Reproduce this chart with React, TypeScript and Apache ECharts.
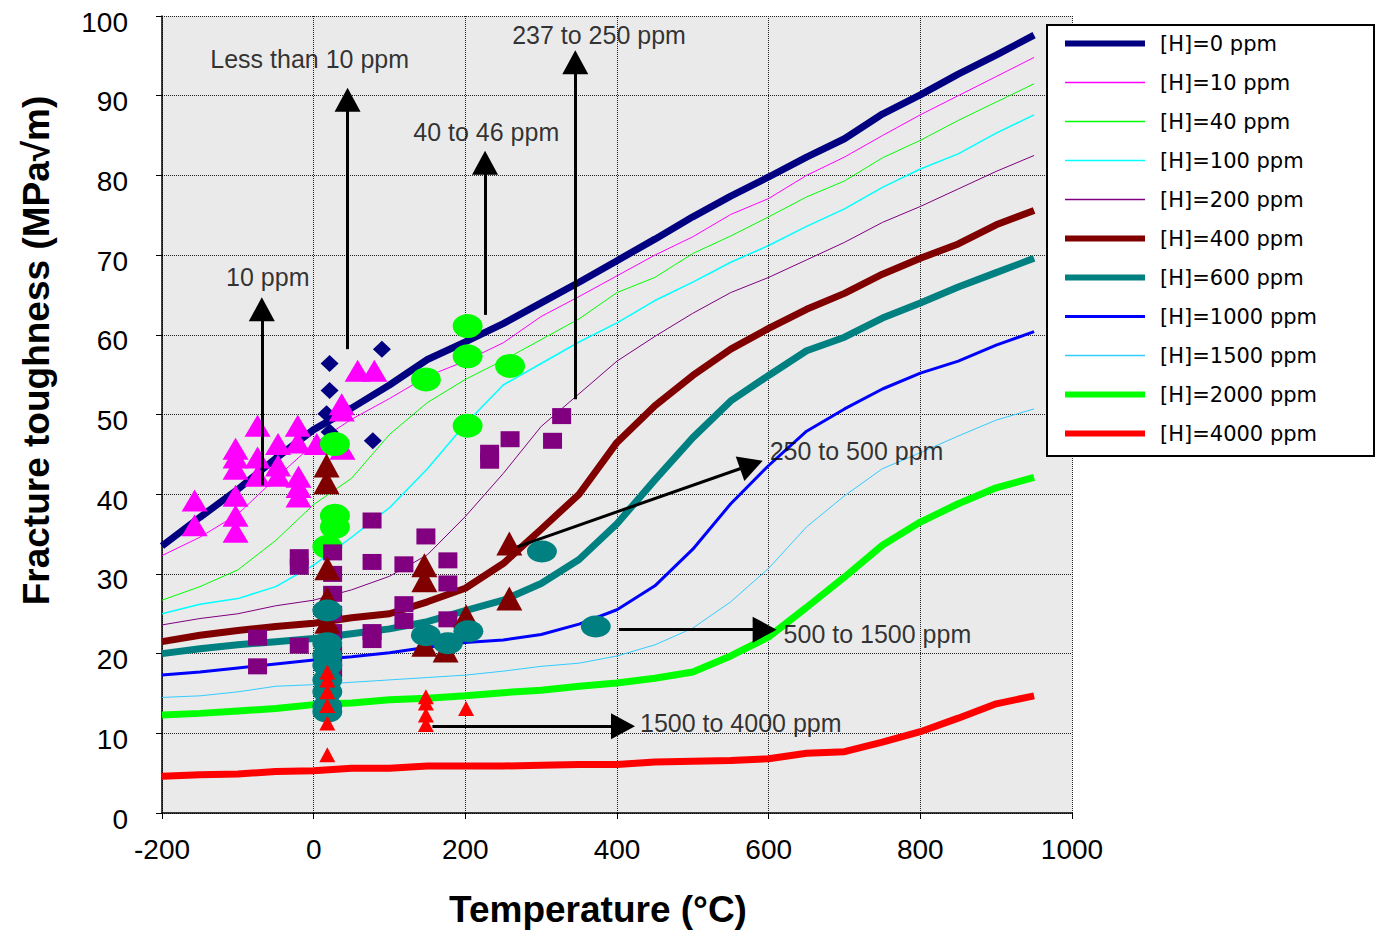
import React, { useEffect, useRef } from "react";
import * as echarts from "echarts";

// Temperature grid of the model curves (°C)
const temps = [-200, -150, -100, -50, 0, 50, 100, 150, 200, 250, 300, 350, 400, 450, 500, 550, 600, 650, 700, 750, 800, 850, 900, 950];

// Model curves: fracture toughness (MPa√m) for each hydrogen content
const h0 = [33.5, 37.1, 40.6, 44.5, 48.1, 50.8, 53.7, 56.9, 59.1, 61.4, 64.0, 66.6, 69.3, 72.0, 74.8, 77.4, 79.8, 82.3, 84.6, 87.7, 90.1, 92.7, 95.1, 97.6];
const h10 = [32.3, 34.6, 37.5, 42.0, 46.3, 49.4, 52.0, 54.8, 56.7, 59.0, 62.3, 64.8, 67.4, 70.0, 72.3, 75.1, 77.1, 80.0, 82.3, 85.0, 87.6, 90.0, 92.4, 94.8];
const h40 = [26.7, 28.4, 30.5, 34.2, 38.7, 42.0, 47.5, 51.5, 54.4, 56.8, 59.4, 62.0, 65.3, 67.2, 70.2, 72.4, 74.8, 77.3, 79.3, 82.2, 84.4, 86.9, 89.2, 91.5];
const h100 = [25.0, 26.2, 26.9, 28.4, 31.1, 34.6, 38.3, 43.2, 48.8, 53.7, 56.4, 59.1, 61.5, 64.3, 66.6, 69.1, 71.2, 73.6, 75.8, 78.5, 80.8, 82.7, 85.3, 87.6];
const h200 = [23.6, 24.4, 25.0, 26.0, 26.7, 28.0, 29.7, 32.4, 37.2, 42.6, 48.5, 52.6, 56.7, 59.8, 62.7, 65.3, 67.2, 69.4, 71.6, 74.1, 76.1, 78.3, 80.5, 82.5];
const h400 = [21.5, 22.3, 22.9, 23.4, 23.8, 24.5, 25.0, 26.5, 28.2, 31.3, 35.6, 40.0, 46.5, 51.1, 54.9, 58.2, 60.8, 63.2, 65.2, 67.6, 69.6, 71.4, 73.8, 75.6];
const h600 = [20.0, 20.6, 21.1, 21.5, 21.9, 22.5, 23.1, 24.0, 25.4, 26.7, 28.8, 31.8, 36.3, 41.8, 47.1, 51.7, 54.9, 58.0, 59.7, 62.1, 64.0, 66.0, 67.8, 69.6];
const h1000 = [17.3, 17.7, 18.2, 18.7, 19.2, 19.6, 20.1, 20.8, 21.4, 21.7, 22.4, 23.7, 25.5, 28.5, 33.1, 38.8, 43.6, 47.9, 50.7, 53.2, 55.2, 56.7, 58.7, 60.4];
const h1500 = [14.5, 14.7, 15.2, 15.9, 16.1, 16.4, 16.7, 17.0, 17.3, 17.8, 18.4, 18.8, 19.7, 21.1, 23.2, 26.5, 30.7, 35.9, 39.8, 43.2, 45.2, 47.3, 49.3, 50.7];
const h2000 = [12.3, 12.5, 12.8, 13.1, 13.6, 13.8, 14.2, 14.4, 14.7, 15.1, 15.4, 15.9, 16.3, 16.9, 17.7, 19.7, 22.1, 25.8, 29.6, 33.6, 36.5, 38.8, 40.8, 42.1];
const h4000 = [4.6, 4.8, 4.9, 5.2, 5.3, 5.6, 5.6, 5.9, 5.9, 5.9, 6.0, 6.1, 6.1, 6.4, 6.5, 6.6, 6.8, 7.5, 7.7, 8.9, 10.2, 11.9, 13.7, 14.7];

const curveNames = ["[H]=0 ppm", "[H]=10 ppm", "[H]=40 ppm", "[H]=100 ppm", "[H]=200 ppm", "[H]=400 ppm", "[H]=600 ppm", "[H]=1000 ppm", "[H]=1500 ppm", "[H]=2000 ppm", "[H]=4000 ppm"];
const curveValues = [h0, h10, h40, h100, h200, h400, h600, h1000, h1500, h2000, h4000];
const curveColors = ["#000080", "#ff00ff", "#00ff00", "#00ffff", "#800080", "#800000", "#008080", "#0000ff", "#33ccff", "#00ff00", "#ff0000"];
const curveWidths = [7, 1, 1, 1.5, 1, 7, 7, 3, 1, 7, 7];
const legendWidths = [6, 1.5, 1.5, 1.5, 1.5, 6, 6, 3, 1.5, 6, 6];

// Experimental points [temperature, toughness]
const ptsLess10 = [[90, 58.2], [21, 56.4], [21, 53], [17, 50.1], [21, 47.8], [78, 46.7]];
const pts10 = [
  [-157, 39.2], [-157, 36.1], [-103, 39.8], [-103, 37.3], [-103, 35.3], [-103, 45.7], [-103, 44.6], [-103, 43.2],
  [-74, 48.6], [-74, 44.6], [-74, 42.3], [-47, 46.3], [-47, 43.6], [-47, 42.3], [-21, 48.6], [-21, 46.5],
  [-20, 42.2], [-20, 40.9], [-20, 39.7], [4, 46.3], [37, 51.3], [37, 50.5], [38, 45.7], [58, 55.5], [80, 55.5],
];
const pts40 = [[203, 61.1], [203, 57.3], [148, 54.4], [259, 56.1], [203, 48.6], [28, 46.3], [28, 37.3], [28, 35.9], [18, 33.4]];
const pts240 = [
  [327, 49.8], [315, 46.7], [259, 46.9], [232, 45.2], [232, 44.2], [-19, 32.1], [-19, 30.9], [25, 32.7], [77, 36.7],
  [77, 31.5], [119, 31.2], [148, 34.7], [177, 31.7], [177, 28.8], [119, 26.2], [119, 24.1], [177, 24.3], [77, 22.7],
  [77, 21.7], [-19, 21], [-74, 22], [-74, 18.4], [25, 30], [25, 27.5], [25, 25], [25, 22.7], [25, 20], [25, 18],
];
const pts250to500 = [[17, 43.6], [17, 41.5], [18, 30.7], [18, 26.9], [18, 24], [146, 31.1], [146, 29.2], [201, 24.7], [146, 21.1], [174, 20.4], [258, 33.8], [258, 26.9]];
const pts500to1500 = [[18, 25.4], [18, 21.3], [18, 19.8], [18, 18.5], [18, 16.7], [18, 15.2], [18, 13.4], [18, 12.7], [148, 22.3], [177, 21.3], [204, 22.8], [301, 32.8], [372, 23.4]];
const pts1500to4000 = [[18, 17.7], [18, 16.7], [18, 15.2], [18, 13.5], [18, 11.3], [18, 7.3], [148, 14.6], [148, 13.8], [148, 12.3], [148, 11.1], [201, 13.1]];

// Annotation labels [x, y, text, align]
const noteLabels: [number, number, string, string][] = [
  [-60.5, 67.3, "10 ppm", "center"],
  [-5.3, 94.6, "Less than 10 ppm", "center"],
  [227.6, 85.5, "40 to 46 ppm", "center"],
  [376.3, 97.6, "237 to 250 ppm", "center"],
  [601.3, 45.4, "250 to 500 ppm", "left"],
  [619.7, 22.5, "500 to 1500 ppm", "left"],
  [430.3, 11.3, "1500 to 4000 ppm", "left"],
];
// Arrows [x1, y1, x2, y2]
const noteArrows = [
  [-68.4, 41.1, -68.4, 63.2],
  [44.7, 58.2, 44.7, 89.5],
  [226, 62.5, 226, 81.6],
  [345, 51.9, 345, 94.2],
  [268.4, 33.4, 577.2, 43.7],
  [402.6, 23.0, 594.7, 23.0],
  [156.6, 10.9, 407.9, 10.9],
];

const FONT = "'Liberation Sans', Arial, Helvetica, sans-serif";

export default function App() {
  const ref = useRef<HTMLDivElement>(null);
  useEffect(() => {
    const chart = echarts.init(ref.current!, null, { renderer: "svg" });
    const lineSeries = curveNames.map((name, i) => ({
      name,
      type: "line",
      data: temps.map((t, j) => [t, curveValues[i][j]]),
      symbol: "none",
      showSymbol: false,
      lineStyle: { color: curveColors[i], width: curveWidths[i] },
      itemStyle: { color: curveColors[i] },
      z: 2,
      silent: true,
    }));
    const scatter = (data: number[][], symbol: string, size: any, color: string, z: number) => ({
      type: "scatter",
      data,
      symbol,
      symbolSize: size,
      itemStyle: { color, opacity: 1 },
      z,
      silent: true,
    });
    const option: any = {
      animation: false,
      backgroundColor: "#ffffff",
      grid: {
        left: 162,
        right: 304,
        top: 16,
        bottom: 118,
        show: true,
        backgroundColor: "#eaeaea",
        borderWidth: 0,
      },
      xAxis: {
        type: "value",
        min: -200,
        max: 1000,
        interval: 200,
        name: "Temperature (°C)",
        nameLocation: "middle",
        nameGap: 78,
        nameTextStyle: { fontFamily: FONT, fontSize: 37, fontWeight: "bold", color: "#000", padding: [0, 38, 0, 0] },
        axisLine: { show: true, onZero: false, lineStyle: { color: "#000", width: 1.5 } },
        axisTick: { show: true, length: 6, lineStyle: { color: "#000" } },
        axisLabel: { fontFamily: FONT, fontSize: 28, color: "#000", margin: 22, formatter: (v: number) => String(v) },
        splitLine: { show: true, lineStyle: { color: "#222", width: 1, type: [1, 1] } },
      },
      yAxis: {
        type: "value",
        min: 0,
        max: 100,
        interval: 10,
        name: "Fracture toughness (MPa√m)",
        nameLocation: "middle",
        nameGap: 107,
        nameRotate: 90,
        nameTextStyle: { fontFamily: FONT, fontSize: 37, fontWeight: "bold", color: "#000", padding: [0, 0, 0, 128] },
        axisLine: { show: true, onZero: false, lineStyle: { color: "#000", width: 1.5 } },
        axisTick: { show: true, length: 6, lineStyle: { color: "#000" } },
        axisLabel: { fontFamily: FONT, fontSize: 28, color: "#000", margin: 34, verticalAlign: "top", lineHeight: 12 },
        splitLine: { show: true, lineStyle: { color: "#222", width: 1, type: [1, 1] } },
      },
      legend: {
        orient: "vertical",
        left: 1047,
        top: 25,
        data: curveNames.map((name, i) => ({ name, lineStyle: { width: legendWidths[i] } })),
        itemWidth: 80,
        itemHeight: 14,
        itemGap: 18,
        padding: [8, 57, 12, 15],
        backgroundColor: "#ffffff",
        borderColor: "#000",
        borderWidth: 2,
        borderRadius: 0,
        itemStyle: { opacity: 0 },
        textStyle: { fontFamily: "'DejaVu Sans', sans-serif", fontSize: 21, color: "#000", padding: [0, 0, 0, 10] },
        selectedMode: false,
      },
      series: [
        ...lineSeries,
        scatter(ptsLess10, "diamond", [18, 17], "#000080", 3),
        scatter(pts10, "triangle", [26, 22], "#ff00ff", 4),
        scatter(pts40, "circle", [30, 24], "#00ff00", 5),
        scatter(pts240, "rect", [19, 16], "#800080", 6),
        scatter(pts250to500, "triangle", [26, 24], "#800000", 7),
        scatter(pts500to1500, "circle", [30, 22], "#008080", 8),
        scatter(pts1500to4000, "triangle", [16, 15], "#ff0000", 9),
        {
          type: "scatter",
          z: 10,
          silent: true,
          symbolSize: 0,
          data: noteLabels.map((n) => ({
            value: [n[0], n[1]],
            label: {
              show: true,
              position: "inside",
              align: n[3],
              verticalAlign: "middle",
              formatter: n[2],
              fontFamily: FONT,
              fontSize: 25,
              color: "#000",
            },
          })),
          markLine: {
            silent: true,
            symbol: ["none", "triangle"],
            symbolSize: [26, 24],
            label: { show: false },
            lineStyle: { color: "#000", width: 3, type: "solid" },
            itemStyle: { color: "#000" },
            data: noteArrows.map((a) => [
              { coord: [a[0], a[1]] },
              { coord: [a[2], a[3]] },
            ]),
          },
        },
      ],
    };
    chart.setOption(option);
    return () => chart.dispose();
  }, []);
  return (
    <div
      ref={ref}
      style={{ position: "fixed", left: 0, top: 0, width: 1376, height: 933, background: "#fff" }}
    />
  );
}
